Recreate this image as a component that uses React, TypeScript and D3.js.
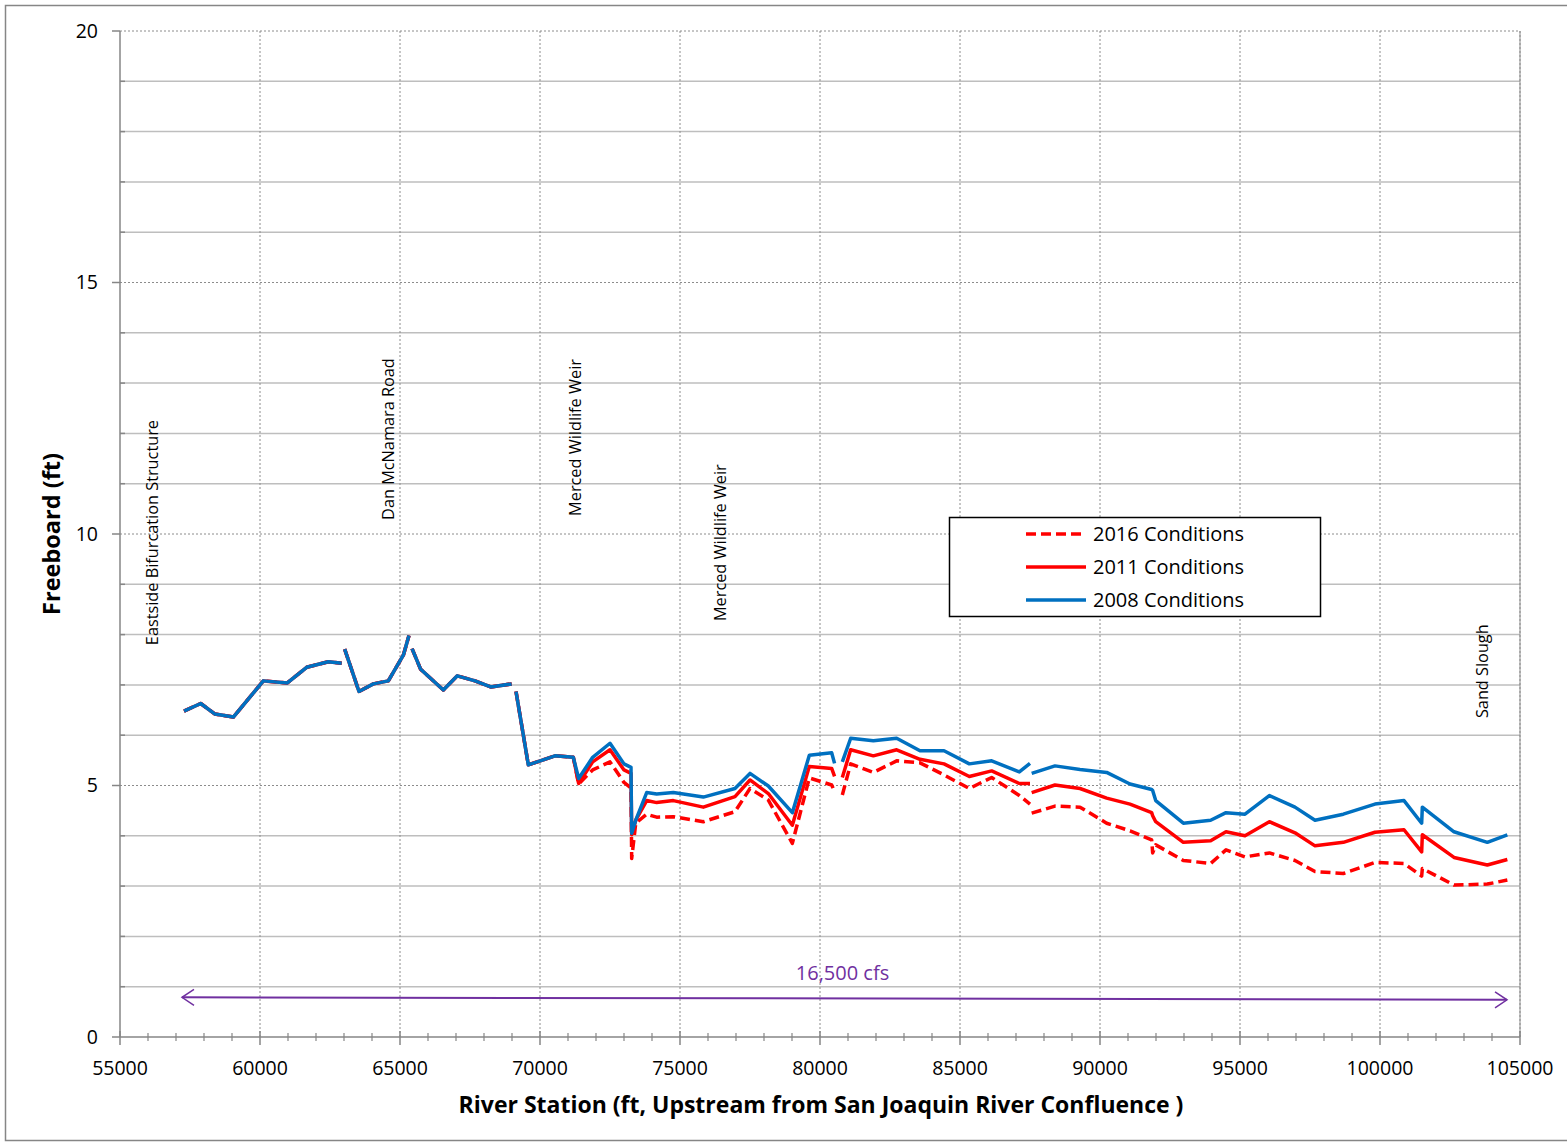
import React from "react";
import * as d3 from "d3";

// river stations (ft); NaN marks a break in the profile lines
const earlyStations = [57286, 57882, 58393, 59048, 60119, 60976, 61667, 62440, 62917, NaN,
  63024, 63536, 64048, 64583, 65119, 65321, NaN,
  65430, 65738, 66548, 67047, 67679, 68238, 68988, NaN,
  69143, 69583, 70536, 71190];
const earlyValues = [6.48, 6.63, 6.42, 6.36, 7.08, 7.04, 7.35, 7.46, 7.43, NaN,
  7.71, 6.87, 7.02, 7.08, 7.59, 7.98, NaN,
  7.72, 7.31, 6.9, 7.18, 7.08, 6.96, 7.02, NaN,
  6.87, 5.41, 5.59, 5.56];

const lateStations = [71380, 71881, 72500, 73000, 73250, 73274, 73420, 73810, 74167, 74762,
  75833, 76964, 77500, 78155, 79012, 79619, 80417, 80520, NaN,
  80797, 81096, 81905, 82738, 83571, 84429, 85333, 86131, 87119, 87500, NaN,
  87560, 88393, 89286, 90238, 91071, 91845, 91881, 91990, 92976, 93952, 94500, 95179,
  96048, 96964, 97679, 98690, 99821, 100857, 101488, 101512, 102643, 103833, 104548];

const late2008 = [5.14, 5.56, 5.84, 5.43, 5.36, 4.05, 4.31, 4.86, 4.83, 4.86,
  4.77, 4.94, 5.24, 4.99, 4.46, 5.6, 5.65, 5.44, NaN,
  5.47, 5.94, 5.89, 5.94, 5.69, 5.69, 5.43, 5.49, 5.27, 5.44, NaN,
  5.24, 5.39, 5.32, 5.26, 5.03, 4.92, 4.9, 4.7, 4.25, 4.31, 4.46, 4.43,
  4.8, 4.57, 4.31, 4.43, 4.63, 4.7, 4.25, 4.57, 4.08, 3.87, 4.02];
const late2011 = [5.04, 5.47, 5.71, 5.31, 5.24, 4.02, 4.31, 4.7, 4.66, 4.7,
  4.57, 4.78, 5.11, 4.84, 4.21, 5.38, 5.34, 5.18, NaN,
  5.16, 5.71, 5.59, 5.71, 5.52, 5.43, 5.18, 5.29, 5.04, 5.04, NaN,
  4.86, 5.01, 4.94, 4.75, 4.63, 4.46, 4.4, 4.28, 3.87, 3.9, 4.08, 4.0,
  4.28, 4.06, 3.8, 3.87, 4.07, 4.12, 3.68, 4.02, 3.57, 3.42, 3.53];
const late2016 = [5.03, 5.31, 5.47, 5.06, 4.95, 3.55, 4.25, 4.43, 4.37, 4.38,
  4.28, 4.48, 4.94, 4.71, 3.85, 5.15, 5.01, 4.88, NaN,
  4.81, 5.43, 5.26, 5.49, 5.45, 5.21, 4.94, 5.16, 4.8, 4.63, NaN,
  4.45, 4.59, 4.57, 4.25, 4.1, 3.92, 3.66, 3.82, 3.51, 3.45, 3.72, 3.58,
  3.66, 3.51, 3.29, 3.25, 3.47, 3.45, 3.2, 3.35, 3.02, 3.04, 3.12];

const stations = [...earlyStations, ...lateStations];
const cond2008 = [...earlyValues, ...late2008];
const cond2011 = [...earlyValues, ...late2011];
const cond2016 = [...earlyValues, ...late2016];

const seriesNames = ["2016 Conditions", "2011 Conditions", "2008 Conditions"];

const annoLabels = ["Eastside Bifurcation Structure", "Dan McNamara Road", "Merced Wildlife Weir", "Merced Wildlife Weir", "Sand Slough"];
const annoStations = [56143, 64571, 71250, 76429, 103643];
const annoBase = [7.79, 10.28, 10.36, 8.27, 6.34];

const flowLabel = "16,500 cfs";
const flowStart = [57214, 0.79];
const flowEnd = [104536, 0.74];

const xTicks = [55000, 60000, 65000, 70000, 75000, 80000, 85000, 90000, 95000, 100000, 105000];
const yTicks = [0, 5, 10, 15, 20];

const W = 1567, H = 1144;
const m = { left: 120, top: 31, right: 47, bottom: 107 };
const FONT = "'Open Sans', 'Noto Sans', sans-serif";

export default function App() {
  const x = d3.scaleLinear().domain([55000, 105000]).range([m.left, W - m.right]);
  const y = d3.scaleLinear().domain([0, 20]).range([H - m.bottom, m.top]);
  const [x0, x1] = x.range();
  const [yb, yt] = y.range();

  const line = d3.line<[number, number]>()
    .defined(d => !isNaN(d[0]) && !isNaN(d[1]))
    .x(d => x(d[0]))
    .y(d => y(d[1]));
  const pts = (vals: number[]) => stations.map((s, i) => [s, vals[i]] as [number, number]);

  const series = [
    { vals: cond2016, color: "#FF0000", dash: "10,5" },
    { vals: cond2011, color: "#FF0000", dash: "" },
    { vals: cond2008, color: "#0070C0", dash: "" },
  ];

  const minorY = d3.range(1, 20).filter(v => v % 5 !== 0);
  const minorX = d3.range(55000, 105001, 1000).filter(v => v % 5000 !== 0);

  const ax = x(flowStart[0]), ay = y(flowStart[1]);
  const bx = x(flowEnd[0]), by = y(flowEnd[1]);

  const lgX = 949, lgY = 517;

  return (
    <svg width={W} height={H} style={{ position: "absolute", left: 0, top: 0 }} fontFamily={FONT}>
      <rect x={0} y={0} width={W} height={H} fill="#fff" />
      <rect x={5.5} y={5.5} width={W + 10} height={H - 9} fill="none" stroke="#868686" strokeWidth={1.5} />

      {/* minor horizontal grid */}
      {minorY.map(v => (
        <line key={"my" + v} x1={x0} x2={x1} y1={y(v)} y2={y(v)} stroke="#BEBEBE" strokeWidth={1.5} />
      ))}
      {/* major grid dotted */}
      {yTicks.filter(v => v > 0).map(v => (
        <line key={"gy" + v} x1={x0} x2={x1} y1={y(v)} y2={y(v)} stroke="#8C8C8C" strokeWidth={1} strokeDasharray="2,2" />
      ))}
      {xTicks.filter(v => v > 55000).map(v => (
        <line key={"gx" + v} x1={x(v)} x2={x(v)} y1={yt} y2={yb} stroke="#8C8C8C" strokeWidth={1} strokeDasharray="2,2" />
      ))}
      <line x1={x1} x2={x1} y1={yt} y2={yb} stroke="#8C8C8C" strokeWidth={1} />

      {/* axes */}
      <line x1={x0} x2={x0} y1={yt} y2={yb} stroke="#868686" strokeWidth={1.5} />
      <line x1={x0} x2={x1} y1={yb} y2={yb} stroke="#868686" strokeWidth={1.5} />
      {yTicks.map(v => (
        <g key={"yt" + v}>
          <line x1={x0 - 8} x2={x0} y1={y(v)} y2={y(v)} stroke="#868686" strokeWidth={1.5} />
          <text x={x0 - 22} y={y(v)} dy="0.35em" textAnchor="end" fontSize={19.5}>{v}</text>
        </g>
      ))}
      {minorY.map(v => (
        <line key={"ymt" + v} x1={x0} x2={x0 + 5} y1={y(v)} y2={y(v)} stroke="#868686" strokeWidth={1.5} />
      ))}
      {xTicks.map(v => (
        <g key={"xt" + v}>
          <line x1={x(v)} x2={x(v)} y1={yb - 6} y2={yb + 8} stroke="#868686" strokeWidth={1.5} />
          <text x={x(v)} y={yb + 38} textAnchor="middle" fontSize={19.5}>{v}</text>
        </g>
      ))}
      {minorX.map(v => (
        <line key={"xmt" + v} x1={x(v)} x2={x(v)} y1={yb - 4} y2={yb + 4} stroke="#868686" strokeWidth={1.2} />
      ))}

      <text x={(x0 + x1) / 2 + 1} y={yb + 76} textAnchor="middle" fontSize={23} fontWeight="bold">
        River Station (ft, Upstream from San Joaquin River Confluence )
      </text>
      <text transform={`translate(60,534) rotate(-90)`} textAnchor="middle" fontSize={23.5} fontWeight="bold">
        Freeboard (ft)
      </text>

      {/* profile lines */}
      {series.map((s, i) => (
        <path key={"s" + i} d={line(pts(s.vals)) || ""} fill="none" stroke={s.color} strokeWidth={3.5}
          strokeDasharray={s.dash || undefined} strokeLinejoin="round" />
      ))}

      {/* structure annotations */}
      {annoLabels.map((t, i) => (
        <text key={"a" + i} transform={`translate(${x(annoStations[i]) + 6},${y(annoBase[i])}) rotate(-90)`} fontSize={16.3}>
          {t}
        </text>
      ))}

      {/* flow arrow */}
      <line x1={ax} y1={ay} x2={bx} y2={by} stroke="#7030A0" strokeWidth={2} />
      <polyline points={`${ax + 12},${ay - 8} ${ax},${ay} ${ax + 12},${ay + 8}`} fill="none" stroke="#7030A0" strokeWidth={1.5} />
      <polyline points={`${bx - 12},${by - 8} ${bx},${by} ${bx - 12},${by + 8}`} fill="none" stroke="#7030A0" strokeWidth={1.5} />
      <text x={(ax + bx) / 2 - 2} y={ay - 17} textAnchor="middle" fontSize={20} fill="#7030A0">{flowLabel}</text>

      {/* legend */}
      <rect x={lgX + 0.5} y={lgY + 0.5} width={371} height={99} fill="#fff" stroke="#000" strokeWidth={1.5} />
      {seriesNames.map((n, i) => (
        <g key={"lg" + i} transform={`translate(${lgX},${lgY + 17 + i * 33})`}>
          <line x1={77} x2={137} y1={0} y2={0} stroke={series[i].color} strokeWidth={3.5}
            strokeDasharray={series[i].dash || undefined} />
          <text x={144} y={0} dy="0.35em" fontSize={20}>{n}</text>
        </g>
      ))}
    </svg>
  );
}
